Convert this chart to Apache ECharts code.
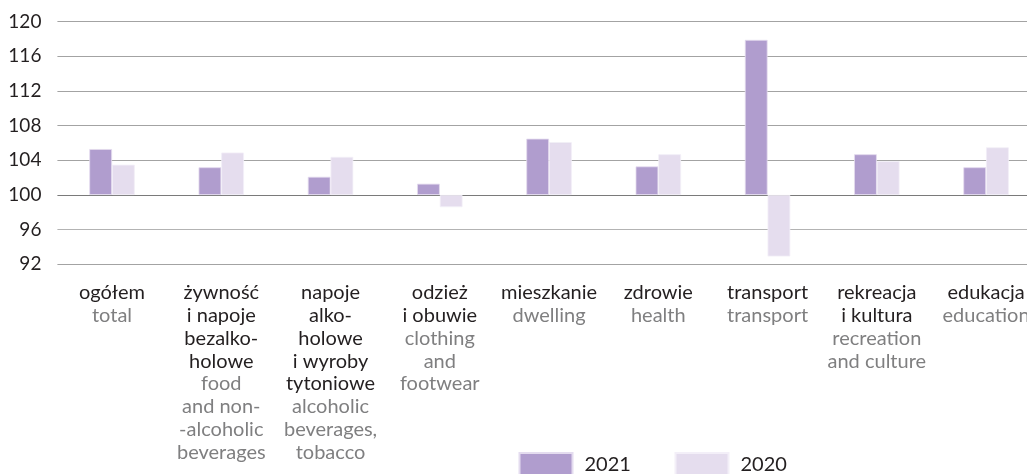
<!DOCTYPE html>
<html>
<head>
<meta charset="utf-8">
<script src="https://cdn.jsdelivr.net/npm/echarts@6/dist/echarts.min.js"></script>
<style>
  html, body { margin: 0; padding: 0; background: #fff; }
  #chart { width: 1027px; height: 474px; }
</style>
</head>
<body>
<div id="chart"></div>
<script>
// Price indices, previous year = 100
const categoriesPl = [
  'ogółem',
  'żywność\ni napoje\nbezalko-\nholowe',
  'napoje\nalko-\nholowe\ni wyroby\ntytoniowe',
  'odzież\ni obuwie',
  'mieszkanie',
  'zdrowie',
  'transport',
  'rekreacja\ni kultura',
  'edukacja'
];
const categoriesEn = [
  'total',
  'food\nand non-\n-alcoholic\nbeverages',
  'alcoholic\nbeverages,\ntobacco',
  'clothing\nand\nfootwear',
  'dwelling',
  'health',
  'transport',
  'recreation\nand culture',
  'education'
];
const values2021 = [105.3, 103.2, 102.1, 101.3, 106.5, 103.3, 117.9, 104.7, 103.2];
const values2020 = [103.5, 104.9, 104.4, 98.6, 106.1, 104.7, 92.9, 103.9, 105.5];
const seriesNames = ['2021', '2020'];
const BASE = 100;

const FONT = 'Lato';
const categories = categoriesPl.map((p, i) => i);

function styledLines(text, tag) {
  return text.split('\n').map(l => '{' + tag + '|' + l + '}').join('\n');
}

const legendText = { fontFamily: FONT, fontSize: 20, color: '#231f20', padding: [0, 0, 0, 7] };

const chart = echarts.init(document.getElementById('chart'));
chart.setOption({
  animation: false,
  textStyle: { fontFamily: FONT },
  grid: {
    left: 57.4, top: 21.7, width: 983.3, bottom: 209.7,
    containLabel: false, outerBoundsMode: 'none'
  },
  legend: [
    {
      data: [seriesNames[0]], left: 518.5, top: 452, padding: 0,
      itemWidth: 53, itemHeight: 24, itemGap: 0, icon: 'rect', textStyle: legendText
    },
    {
      data: [seriesNames[1]], left: 674.5, top: 452, padding: 0,
      itemWidth: 53, itemHeight: 24, itemGap: 0, icon: 'rect', textStyle: legendText
    }
  ],
  xAxis: {
    type: 'category',
    data: categories,
    axisLine: { show: false, onZero: false },
    axisTick: { show: false },
    axisLabel: {
      interval: 0,
      margin: 17,
      verticalAlign: 'top',
      align: 'center',
      lineHeight: 22.8,
      formatter: (v, i) => styledLines(categoriesPl[i], 'pl') + '\n' + styledLines(categoriesEn[i], 'en'),
      rich: {
        pl: { fontFamily: FONT, fontSize: 20, color: '#231f20', lineHeight: 22.8, align: 'center' },
        en: { fontFamily: FONT, fontSize: 20, color: '#7f7f80', lineHeight: 22.8, align: 'center' }
      }
    }
  },
  yAxis: {
    type: 'value',
    min: -8,
    max: 20,
    interval: 4,
    axisLine: { show: false },
    axisTick: { show: false },
    axisLabel: {
      margin: 16,
      fontFamily: FONT,
      fontSize: 19,
      color: '#231f20',
      formatter: v => String(v + BASE)
    },
    splitLine: {
      lineStyle: {
        color: ['#a3a3a3', '#b3b3b3', '#7a7a7a', '#a3a3a3', '#a3a3a3', '#a3a3a3', '#a3a3a3', '#a3a3a3'],
        width: 1.2
      }
    }
  },
  series: [
    {
      name: seriesNames[0],
      type: 'bar',
      data: values2021.map(v => +(v - BASE).toFixed(2)),
      barWidth: '20.8%',
      barGap: '0%',
      itemStyle: { color: '#b09dce', borderColor: '#e4dcef', borderWidth: 0.8 }
    },
    {
      name: seriesNames[1],
      type: 'bar',
      data: values2020.map(v => +(v - BASE).toFixed(2)),
      barWidth: '20.8%',
      barGap: '0%',
      itemStyle: { color: '#e5ddee', borderColor: '#f3eff8', borderWidth: 0.8 }
    }
  ]
});
</script>
</body>
</html>
